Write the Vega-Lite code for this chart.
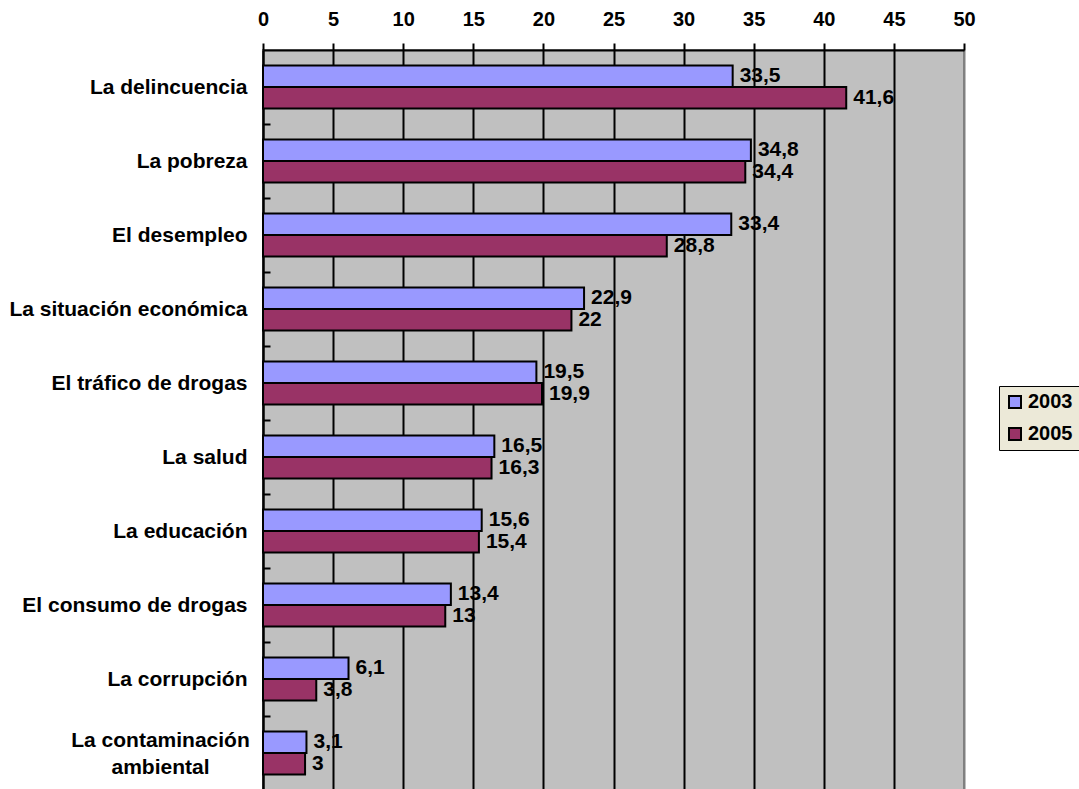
{
  "$schema": "https://vega.github.io/schema/vega-lite/v6.json",
  "width": 701,
  "height": 740,
  "autosize": {"type": "none"},
  "padding": {"left": 263, "top": 50, "right": 115, "bottom": 0},
  "background": "white",
  "config": {
    "locale": {"number": {"decimal": ",", "thousands": ".", "grouping": [3], "currency": ["", " €"]}},
    "view": {"fill": "#C0C0C0", "stroke": "#808080", "strokeWidth": 2},
    "font": "Liberation Sans"
  },
  "data": {
    "values": [
      {"tema": "La delincuencia", "año": "2003", "valor": 33.5},
      {"tema": "La delincuencia", "año": "2005", "valor": 41.6},
      {"tema": "La pobreza", "año": "2003", "valor": 34.8},
      {"tema": "La pobreza", "año": "2005", "valor": 34.4},
      {"tema": "El desempleo", "año": "2003", "valor": 33.4},
      {"tema": "El desempleo", "año": "2005", "valor": 28.8},
      {"tema": "La situación económica", "año": "2003", "valor": 22.9},
      {"tema": "La situación económica", "año": "2005", "valor": 22},
      {"tema": "El tráfico de drogas", "año": "2003", "valor": 19.5},
      {"tema": "El tráfico de drogas", "año": "2005", "valor": 19.9},
      {"tema": "La salud", "año": "2003", "valor": 16.5},
      {"tema": "La salud", "año": "2005", "valor": 16.3},
      {"tema": "La educación", "año": "2003", "valor": 15.6},
      {"tema": "La educación", "año": "2005", "valor": 15.4},
      {"tema": "El consumo de drogas", "año": "2003", "valor": 13.4},
      {"tema": "El consumo de drogas", "año": "2005", "valor": 13},
      {"tema": "La corrupción", "año": "2003", "valor": 6.1},
      {"tema": "La corrupción", "año": "2005", "valor": 3.8},
      {"tema": "La contaminación ambiental", "año": "2003", "valor": 3.1},
      {"tema": "La contaminación ambiental", "año": "2005", "valor": 3}
    ]
  },
  "encoding": {
    "y": {
      "field": "tema",
      "type": "nominal",
      "sort": null,
      "scale": {"paddingInner": 0.42, "paddingOuter": 0.21},
      "axis": {
        "title": null,
        "domainColor": "black",
        "domainWidth": 2,
        "tickColor": "black",
        "tickWidth": 2,
        "tickSize": -7,
        "tickOffset": 37,
        "labelColor": "black",
        "labelFont": "Liberation Sans",
        "labelFontSize": 21,
        "labelFontWeight": "bold",
        "labelLimit": 400,
        "labelLineHeight": 27,
        "labelExpr": "datum.value == 'La contaminación ambiental' ? ['La contaminación', 'ambiental'] : datum.value",
        "labelAlign": {"condition": {"test": "datum.value == 'La contaminación ambiental'", "value": "center"}, "value": "right"},
        "labelOffset": {"condition": {"test": "datum.value == 'La contaminación ambiental'", "value": -50}, "value": -37},
        "labelPadding": {"condition": {"test": "datum.value == 'La contaminación ambiental'", "value": 110}, "value": 23}
      }
    },
    "yOffset": {"field": "año", "type": "nominal", "sort": ["2003", "2005"]},
    "x": {
      "field": "valor",
      "type": "quantitative",
      "scale": {"domain": [0, 50], "nice": false},
      "axis": {
        "title": null,
        "orient": "top",
        "values": [0, 5, 10, 15, 20, 25, 30, 35, 40, 45, 50],
        "domainColor": "black",
        "domainWidth": 2,
        "tickColor": "black",
        "tickWidth": 2,
        "tickSize": 7,
        "labelColor": "black",
        "labelFont": "Liberation Sans",
        "labelFontSize": 20,
        "labelFontWeight": "bold",
        "labelPadding": 14,
        "labelFlush": false,
        "grid": true,
        "gridColor": {"condition": {"test": "datum.value == 50", "value": "#808080"}, "value": "black"},
        "gridWidth": 2,
        "gridOpacity": 1
      }
    }
  },
  "layer": [
    {
      "mark": {"type": "bar", "stroke": "black", "strokeWidth": 2},
      "encoding": {
        "color": {
          "field": "año",
          "type": "nominal",
          "scale": {"domain": ["2003", "2005"], "range": ["#9999FF", "#993366"]},
          "legend": {
            "title": null,
            "orient": "none",
            "legendX": 736,
            "legendY": 336,
            "fillColor": "#ECE9D8",
            "strokeColor": "black",
            "padding": 6,
            "symbolType": "square",
            "symbolSize": 144,
            "symbolStrokeColor": "black",
            "symbolStrokeWidth": 2,
            "symbolOpacity": 1,
            "labelFont": "Liberation Sans",
            "labelFontSize": 20,
            "labelFontWeight": "bold",
            "labelColor": "black",
            "labelOffset": 3,
            "rowPadding": 12
          }
        }
      }
    },
    {
      "mark": {"type": "text", "align": "left", "baseline": "middle", "dx": 7, "font": "Liberation Sans", "fontSize": 21, "fontWeight": "bold", "color": "black"},
      "encoding": {
        "text": {"field": "valor", "type": "quantitative", "format": ".3~g"}
      }
    }
  ]
}
